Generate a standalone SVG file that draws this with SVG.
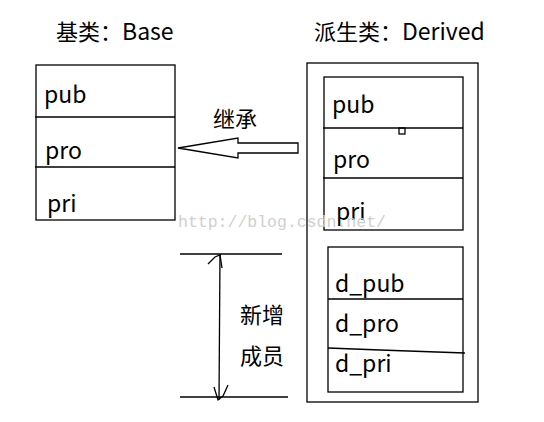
<svg xmlns="http://www.w3.org/2000/svg" width="544" height="422" viewBox="0 0 544 422">
<style>
.t{font-family:"Noto Sans CJK SC","Noto Sans",sans-serif;font-size:22px;fill:#000}
.b{font-size:23px}
.l{stroke:#000;stroke-width:1.3;fill:none}
.wm{font-family:"Liberation Mono",monospace;font-size:16.5px;fill:#cfcfcf}
</style>
<rect width="544" height="422" fill="#fff"/>
<text class="t" x="56" y="40">基类：<tspan class="b">Base</tspan></text>
<text class="t" x="314" y="40">派生类：<tspan class="b">Derived</tspan></text>
<g id="base">
<rect class="l" x="36" y="65" width="139" height="155"/>
<line class="l" x1="35" y1="117" x2="175" y2="117"/>
<line class="l" x1="35" y1="167" x2="175" y2="167"/>
<text class="t b" x="44" y="103">pub</text>
<text class="t b" x="45" y="159">pro</text>
<text class="t b" x="47" y="212">pri</text>
</g>
<g id="derived">
<rect class="l" x="307" y="63" width="171" height="339"/>
<g id="inherited">
<rect class="l" x="324" y="77" width="139" height="153"/>
<line class="l" x1="323" y1="128" x2="463" y2="128"/>
<line class="l" x1="323" y1="178" x2="463" y2="178"/>
<rect class="l" x="399" y="128" width="6" height="6"/>
<text class="t b" x="332" y="113">pub</text>
<text class="t b" x="333" y="168">pro</text>
<text class="t b" x="336" y="220">pri</text>
</g>
<g id="added">
<rect class="l" x="328" y="247" width="135" height="145"/>
<line class="l" x1="328" y1="299" x2="463" y2="299"/>
<polyline class="l" points="328,348 380,350 465,353"/>
<text class="t b" x="335" y="292">d_pub</text>
<text class="t b" x="335" y="332">d_pro</text>
<text class="t b" x="335" y="372">d_pri</text>
</g>
</g>
<g id="connectors">
<polygon class="l" points="178,148 238,138 238,143 298,143 298,153 238,153 238,158"/>
<line class="l" x1="180" y1="254" x2="282" y2="254"/>
<line class="l" x1="180" y1="397" x2="288" y2="397"/>
<line class="l" x1="220" y1="254" x2="219" y2="400"/>
<polyline class="l" points="208,264 215,257 220,255 222,268"/>
<polyline class="l" points="214,387 218,400 223,396 228,385"/>
</g>
<text class="t" x="213" y="127">继承</text>
<text class="t" x="240" y="323">新增</text>
<text class="t" x="240" y="364">成员</text>
<text class="wm" x="178" y="227">http://blog.csdn.net/</text>
</svg>
